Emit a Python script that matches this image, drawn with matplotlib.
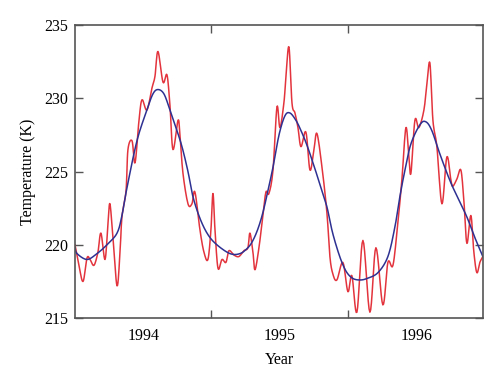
import matplotlib
matplotlib.use("Agg")
import matplotlib.pyplot as plt
import numpy as np

# Observed temperature (red)
obs_year = [1994.000, 1994.029, 1994.059, 1994.088, 1994.110, 1994.139, 1994.168, 1994.190,
            1994.220, 1994.242, 1994.256, 1994.278, 1994.308, 1994.330, 1994.344, 1994.374,
            1994.388, 1994.418, 1994.440, 1994.469, 1994.491, 1994.527, 1994.564, 1994.586,
            1994.608, 1994.645, 1994.674, 1994.696, 1994.718, 1994.755, 1994.769, 1994.791,
            1994.828, 1994.857, 1994.879, 1994.916, 1994.945, 1994.974, 1994.996, 1995.011,
            1995.026, 1995.048, 1995.077, 1995.106, 1995.128, 1995.165, 1995.201, 1995.238,
            1995.267, 1995.282, 1995.304, 1995.319, 1995.348, 1995.377, 1995.399, 1995.421,
            1995.451, 1995.480, 1995.502, 1995.531, 1995.546, 1995.568, 1995.590, 1995.612,
            1995.634, 1995.656, 1995.692, 1995.722, 1995.751, 1995.773, 1995.810, 1995.846,
            1995.868, 1995.890, 1995.919, 1995.963, 1996.000, 1996.029, 1996.066, 1996.110,
            1996.161, 1996.205, 1996.256, 1996.293, 1996.330, 1996.366, 1996.396, 1996.425,
            1996.447, 1996.462, 1996.491, 1996.520, 1996.557, 1996.579, 1996.601, 1996.623,
            1996.652, 1996.689, 1996.725, 1996.755, 1996.769, 1996.799, 1996.828, 1996.850,
            1996.872, 1996.901, 1996.923, 1996.945, 1996.967, 1996.989]
obs_temp = [220.0, 218.6, 217.5, 219.1, 219.0, 218.6, 219.5, 220.8,
            219.0, 221.5, 222.8, 220.5, 217.2, 219.5, 221.9, 223.7,
            226.5, 227.1, 225.6, 228.5, 229.9, 229.2, 230.7, 231.5,
            233.2, 231.1, 231.6, 229.5, 226.5, 228.5, 227.5, 224.9,
            222.8, 222.8, 223.6, 221.0, 219.5, 219.0, 221.0, 223.5,
            221.0, 218.4, 219.0, 218.8, 219.6, 219.3, 219.2, 219.6,
            219.8, 220.8, 219.5, 218.3, 219.8, 222.0, 223.6, 223.5,
            225.1, 229.4, 228.0, 229.7, 231.5, 233.5, 229.7, 229.0,
            228.0, 226.7, 227.7, 225.1, 226.5, 227.6, 225.3, 222.2,
            219.2, 218.0, 217.6, 218.8, 216.8, 217.9, 215.4, 220.3,
            215.4, 219.8, 215.9, 218.8, 218.6, 221.5, 224.5, 228.0,
            226.0, 224.9, 228.5, 228.0, 229.2, 231.0, 232.4, 228.5,
            226.7, 222.8, 226.0, 224.4, 224.0, 224.5, 225.1, 223.0,
            220.1, 222.0, 219.5, 218.1, 218.8, 219.2]

# Fitted curve (blue)
fit_year = [1994.000, 1994.015, 1994.088, 1994.161, 1994.234, 1994.308, 1994.344, 1994.381,
            1994.454, 1994.527, 1994.571, 1994.608, 1994.652, 1994.696, 1994.740, 1994.784,
            1994.828, 1994.864, 1994.916, 1994.974, 1995.040, 1995.136, 1995.209, 1995.267,
            1995.304, 1995.341, 1995.377, 1995.414, 1995.451, 1995.495, 1995.538, 1995.575,
            1995.619, 1995.656, 1995.700, 1995.758, 1995.802, 1995.846, 1995.883, 1995.919,
            1995.956, 1995.993, 1996.037, 1996.088, 1996.139, 1996.220, 1996.293, 1996.344,
            1996.381, 1996.418, 1996.462, 1996.528, 1996.571, 1996.615, 1996.674,
            1996.747, 1996.806, 1996.872, 1996.930, 1996.989]
fit_temp = [219.8, 219.4, 219.0, 219.4, 220.0, 220.8, 222.0, 223.9,
            227.1, 229.2, 230.3, 230.6, 230.3, 229.2, 228.0, 226.7,
            225.0, 223.3, 221.8, 220.7, 220.0, 219.4, 219.4, 219.8,
            220.3, 221.1, 222.2, 223.7, 225.3, 227.5, 228.8, 229.0,
            228.5, 227.8, 226.8, 225.2, 223.9, 222.6, 221.0, 219.8,
            218.8, 218.1, 217.7, 217.6, 217.7, 218.1, 219.2, 221.2,
            223.3, 225.1, 226.9, 228.2, 228.4, 227.8, 226.2,
            224.4, 223.2, 221.9, 220.5, 219.2]

year_ticks = [1995, 1996]
year_labels = ["1994", "1995", "1996"]
year_label_pos = [1994.5, 1995.5, 1996.5]
temp_ticks = [215, 220, 225, 230, 235]


def catmull_rom(xs, ys, n=12):
    """Smooth curve through the given points (uniform Catmull-Rom)."""
    p = np.column_stack([xs, ys]).astype(float)
    p = np.vstack([p[0], p, p[-1]])
    out = []
    t = np.linspace(0, 1, n, endpoint=False)[:, None]
    for i in range(1, len(p) - 2):
        p0, p1, p2, p3 = p[i - 1], p[i], p[i + 1], p[i + 2]
        seg = 0.5 * ((2 * p1) + (-p0 + p2) * t + (2 * p0 - 5 * p1 + 4 * p2 - p3) * t ** 2
                     + (-p0 + 3 * p1 - 3 * p2 + p3) * t ** 3)
        out.append(seg)
    out.append(p[-2][None, :])
    out = np.vstack(out)
    return out[:, 0], out[:, 1]


plt.rcParams['font.family'] = ['Liberation Serif', 'DejaVu Serif']

fig = plt.figure(figsize=(5.0, 3.86), dpi=100)
ax = fig.add_axes([0.15, 0.176, 0.816, 0.759])

ox, oy = catmull_rom(obs_year, obs_temp, 8)
fx, fy = catmull_rom(fit_year, fit_temp, 16)
ax.plot(ox, oy, color='#e3343d', lw=1.1)
ax.plot(fx, fy, color='#2e3192', lw=1.1)

ax.set_xlim(1994.0, 1996.99)
ax.set_ylim(215, 235)

ax.set_xticks(year_ticks)
ax.set_xticklabels([])
ax.set_xticks(year_label_pos, minor=True)
ax.set_xticklabels(year_labels, minor=True)
ax.tick_params(axis='x', which='major', direction='in', length=6, width=1,
               color='#555555', top=True, bottom=True)
ax.tick_params(axis='x', which='minor', length=0, pad=7, labelsize=11.5)
ax.set_yticks(temp_ticks)
ax.tick_params(axis='y', direction='in', length=6, width=1, color='#555555',
               left=True, right=True, pad=5, labelsize=11.5)

for s in ax.spines.values():
    s.set_color('#555555')
    s.set_linewidth(1.2)

ax.set_xlabel('Year', fontsize=11.5, labelpad=6)
ax.set_ylabel('Temperature (K)', fontsize=11.5, labelpad=6)

fig.savefig('out.png', dpi=100)
